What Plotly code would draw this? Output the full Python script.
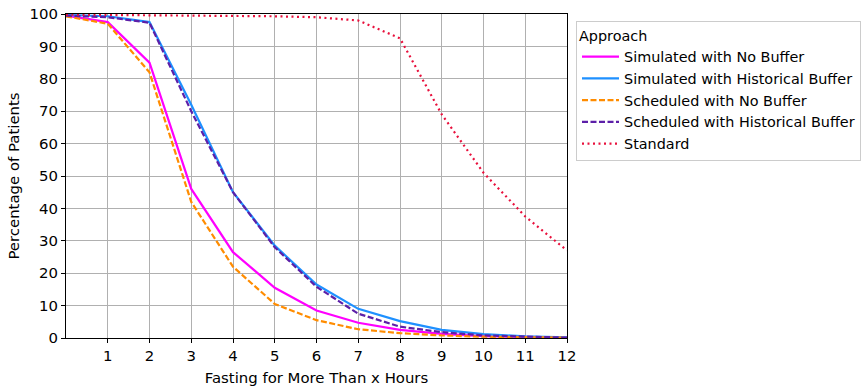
import plotly.graph_objects as go

hours = [0, 1, 2, 3, 4, 5, 6, 7, 8, 9, 10, 11, 12]
sim_no_buffer = [99.5, 97.5, 85.0, 46.0, 26.5, 15.5, 8.5, 4.7, 2.5, 1.3, 0.6, 0.3, 0.1]
sim_hist_buffer = [99.7, 99.3, 97.5, 72.0, 45.0, 28.5, 16.5, 9.0, 5.2, 2.5, 1.2, 0.5, 0.2]
sched_no_buffer = [99.3, 97.0, 82.0, 42.0, 22.0, 10.5, 5.5, 2.7, 1.5, 0.8, 0.4, 0.2, 0.1]
sched_hist_buffer = [99.5, 99.0, 97.3, 70.0, 45.0, 28.0, 15.8, 7.5, 3.5, 1.8, 0.8, 0.4, 0.1]
standard = [99.8, 99.7, 99.6, 99.6, 99.5, 99.3, 99.0, 98.0, 92.5, 69.0, 51.0, 37.5, 27.0]

series = [
    ("Simulated with No Buffer", sim_no_buffer, "#ff00ff", "solid"),
    ("Simulated with Historical Buffer", sim_hist_buffer, "#1e90ff", "solid"),
    ("Scheduled with No Buffer", sched_no_buffer, "#ff8c00", "6px,2.5px"),
    ("Scheduled with Historical Buffer", sched_hist_buffer, "#5c1fa8", "6px,2.5px"),
    ("Standard", standard, "#e8103c", "2px,3.5px"),
]

fig = go.Figure()
for name, vals, color, dash in series:
    fig.add_trace(go.Scatter(x=hours, y=vals, mode="lines", name=name,
                             line=dict(color=color, width=2.2, dash=dash)))

font = "DejaVu Sans"
FS = 14.9
LFS = 14.4
fig.update_layout(
    width=861, height=387,
    margin=dict(l=66, r=294, t=14, b=49),
    plot_bgcolor="white", paper_bgcolor="white",
    font=dict(family=font, size=FS, color="black"),
    legend=dict(
        title=dict(text="Approach", font=dict(size=LFS)),
        xref="container", x=576 / 861, y=0.978, xanchor="left", yanchor="top",
        bordercolor="#cccccc", borderwidth=1,
        font=dict(size=LFS), tracegroupgap=0, itemwidth=37,
    ),
    xaxis=dict(
        range=[0, 12], tickmode="array", tickvals=list(range(1, 13)),
        showgrid=True, gridcolor="#b0b0b0", gridwidth=1,
        showline=True, linecolor="black", linewidth=1.2, mirror=True,
        ticks="outside", ticklen=4, tickcolor="black", zeroline=False,
        tickfont=dict(size=FS), automargin=False,
        title=dict(text="Fasting for More Than x Hours", font=dict(size=FS), standoff=8),
    ),
    yaxis=dict(
        range=[0, 100], tickmode="array", tickvals=list(range(0, 101, 10)),
        showgrid=True, gridcolor="#b0b0b0", gridwidth=1,
        showline=True, linecolor="black", linewidth=1.2, mirror=True,
        ticks="outside", ticklen=4, tickcolor="black", zeroline=False,
        tickfont=dict(size=FS), automargin=False,
        title=dict(text="Percentage of Patients", font=dict(size=FS), standoff=6),
    ),
)

fig.write_html("out.html", config={"displayModeBar": False},
               post_script="document.body.style.margin='0';")
